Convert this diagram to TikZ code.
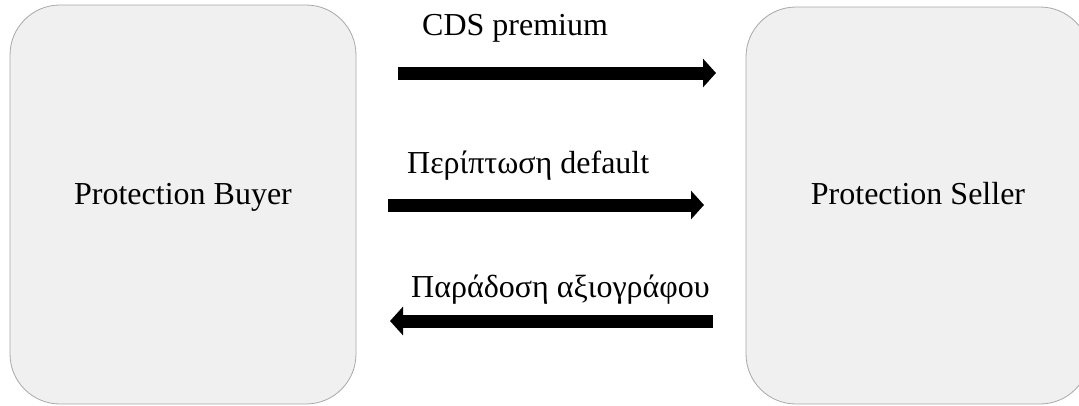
\documentclass[tikz,border=0pt]{standalone}
\usepackage{fontspec}
\setmainfont{Liberation Serif}
\usetikzlibrary{arrows.meta}
\definecolor{boxfill}{HTML}{F0F0F0}
\definecolor{boxline}{HTML}{A8A8A8}
\tikzset{
  party/.style={draw=boxline, line width=0.8pt, fill=boxfill, rounded corners=50pt, inner sep=0pt},
  lbl/.style={font=\fontsize{32}{38}\selectfont, anchor=base, inner sep=0pt},
  flow/.style={line width=13pt, -{Triangle[width=28pt,length=13pt]}}
}
\begin{document}
\begin{tikzpicture}[x=1pt,y=-1pt]
\useasboundingbox (0,0) rectangle (1079,405);
\clip (0,0) rectangle (1079,405);
\node[party, minimum width=346pt, minimum height=399pt] (buyer) at (183,204.5) {};
\node[party, minimum width=344pt, minimum height=397pt] (seller) at (918,205.5) {};
\node[lbl] (buyertxt) at (183,204) {Protection Buyer};
\node[lbl] (sellertxt) at (918,204) {Protection Seller};
\node[lbl, anchor=base west] (l1) at (422,35) {CDS premium};
\node[lbl, anchor=base west] (l2) at (407,173) {Περίπτωση default};
\node[lbl, anchor=base west] (l3) at (411,297) {Παράδοση αξιογράφου};
\coordinate (a1s) at (398,73);
\coordinate (a1e) at (716,73);
\coordinate (a2s) at (388,205);
\coordinate (a2e) at (704,205);
\coordinate (a3s) at (713,321);
\coordinate (a3e) at (390,321);
\draw[flow] (a1s) -- (a1e);
\draw[flow] (a2s) -- (a2e);
\draw[flow] (a3s) -- (a3e);
\end{tikzpicture}
\end{document}
